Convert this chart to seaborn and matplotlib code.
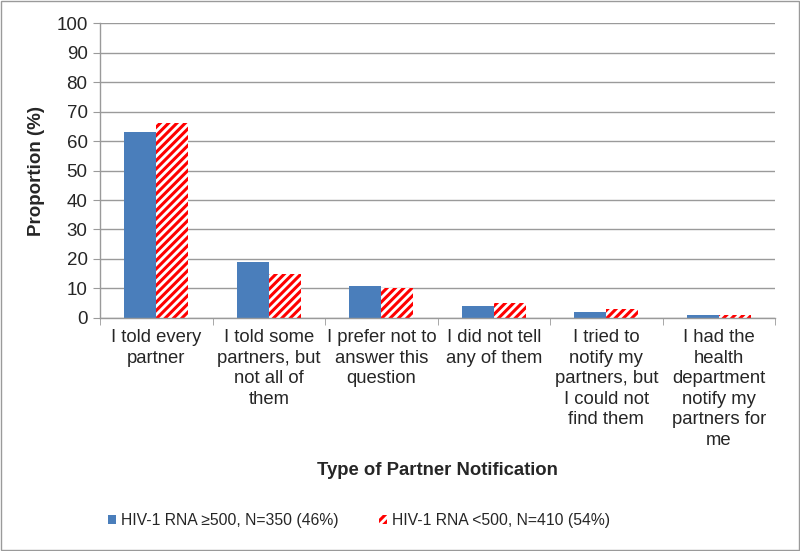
import pandas as pd
import matplotlib
matplotlib.use('Agg')
import matplotlib.pyplot as plt
import seaborn as sns
from matplotlib.patches import Rectangle, Patch

# categories and values
categories = ['I told every\npartner',
              'I told some\npartners, but\nnot all of\nthem',
              'I prefer not to\nanswer this\nquestion',
              'I did not tell\nany of them',
              'I tried to\nnotify my\npartners, but\nI could not\nfind them',
              'I had the\nhealth\ndepartment\nnotify my\npartners for\nme']
high_vl = [63, 19, 11, 4, 2, 1]
low_vl = [66, 15, 10, 5, 3, 1]
series_names = ['HIV-1 RNA \u2265500, N=350 (46%)', 'HIV-1 RNA <500, N=410 (54%)']

df = pd.DataFrame({
    'category': categories * 2,
    'value': high_vl + low_vl,
    'group': [series_names[0]] * 6 + [series_names[1]] * 6,
})

sns.set_style('white')
plt.rcParams['font.family'] = ['Liberation Sans', 'DejaVu Sans']
plt.rcParams['hatch.linewidth'] = 2.2

blue = '#4a7ebb'
red = '#ff0000'
grey = '#9a9a9a'

fig = plt.figure(figsize=(8, 5.51), dpi=100)
ax = fig.add_axes([0.125, 0.423, 0.844, 0.535])

sns.barplot(data=df, x='category', y='value', hue='group', palette=[blue, 'white'],
            width=0.57, gap=0, ax=ax, legend=False, saturation=1)

for p in ax.containers[0]:
    p.set_edgecolor(blue)
    p.set_linewidth(0)
for p in ax.containers[1]:
    p.set_facecolor('white')
    p.set_edgecolor(red)
    p.set_hatch('////')
    p.set_linewidth(0)

ax.set_ylim(0, 100)
ax.set_xlim(-0.5, 5.5)
ax.set_yticks(range(0, 101, 10))
ax.yaxis.grid(True, color=grey, linewidth=1)
ax.set_axisbelow(True)
for side in ['top', 'right']:
    ax.spines[side].set_visible(False)
for side in ['left', 'bottom']:
    ax.spines[side].set_color(grey)
    ax.spines[side].set_linewidth(1)

ax.tick_params(axis='y', which='major', length=5, color=grey, direction='out',
               labelsize=13.5, left=True, pad=4)
ax.set_xticks(range(6))
ax.set_xticklabels(categories, fontsize=13.3, linespacing=1.27)
ax.tick_params(axis='x', which='major', length=0, pad=8)
ax.set_xticks([i + 0.5 for i in range(-1, 6)], minor=True)
ax.tick_params(axis='x', which='minor', length=5, color=grey, direction='out', bottom=True)

ax.set_ylabel('Proportion (%)', fontsize=13.5, fontweight='bold', labelpad=8)
ax.set_xlabel('Type of Partner Notification', fontsize=13.3, fontweight='bold', labelpad=10)

handles = [Patch(facecolor=blue, edgecolor=blue, linewidth=0),
           Patch(facecolor='white', edgecolor=red, hatch='////', linewidth=0)]
fig.legend(handles, series_names, loc='center', bbox_to_anchor=(0.449, 0.056), ncol=2,
           frameon=False, fontsize=11.3, handlelength=0.5, handleheight=0.5,
           handletextpad=0.3, columnspacing=2.6)

fig.patches.append(Rectangle((0.001, 0.001), 0.998, 0.997, transform=fig.transFigure,
                             fill=False, edgecolor=grey, linewidth=1))

fig.savefig('out.png', dpi=100)
